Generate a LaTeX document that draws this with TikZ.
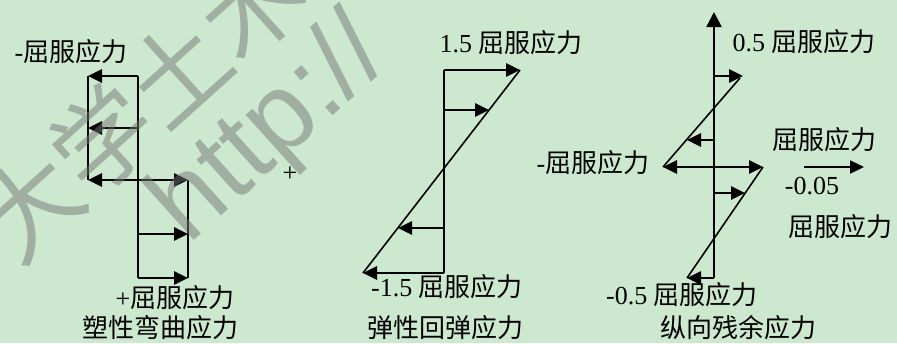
\documentclass[tikz,border=0pt]{standalone}
\usepackage{fontspec}
\setmainfont{Liberation Serif}
\newfontfamily\cjk{Noto Sans CJK SC}
\newfontfamily\wmlatin{Liberation Sans}
\usetikzlibrary{arrows.meta}
\definecolor{bg}{RGB}{204,232,207}
\definecolor{wm}{RGB}{120,120,120}
\begin{document}
\begin{tikzpicture}[x=1pt,y=-1pt,
  lbl/.style={anchor=base, inner sep=0pt, font=\fontsize{26}{30}\selectfont},
  axisline/.style={line width=2pt},
  diag/.style={line width=1.6pt},
  force/.style={line width=2.6pt, -{Triangle[length=14pt,width=13pt]}},
  bothforce/.style={line width=2.6pt, {Triangle[length=14pt,width=13pt]}-{Triangle[length=14pt,width=13pt]}},
  wmtext/.style={text=wm, text opacity=0.5, rotate=42, inner sep=0pt}
]
\fill[bg] (0,0) rectangle (897,343);
\useasboundingbox (0,0) rectangle (897,343);

% ---------- left diagram: plastic bending stress ----------
\coordinate (a1) at (138,76);  \coordinate (a0) at (88,76);
\coordinate (b1) at (138,128); \coordinate (b0) at (88,128);
\coordinate (c0) at (88,180);  \coordinate (c1) at (138,180); \coordinate (c2) at (188,180);
\coordinate (d1) at (138,234); \coordinate (d2) at (188,234);
\coordinate (e1) at (138,278); \coordinate (e2) at (188,278);
\draw[axisline] (a0) -- (c0);
\draw[axisline] (a1) -- (e1);
\draw[axisline] (c2) -- (e2);
\draw[force] (a1) -- (a0);
\draw[force] (b1) -- (b0);
\draw[bothforce] (c0) -- (c2);
\draw[force] (d1) -- (d2);
\draw[force] (e1) -- (e2);
\node[lbl] (l1) at (71,61) {-{\cjk 屈服应力}};
\node[lbl] (l2) at (175,307) {+{\cjk 屈服应力}};
\node[lbl] (l3) at (160,337) {\cjk 塑性弯曲应力};
\node[lbl] (plus) at (290,181) {+};

% ---------- middle diagram: elastic rebound stress ----------
\coordinate (m0) at (444,70);  \coordinate (m0r) at (520,70);
\coordinate (m1) at (444,110); \coordinate (m1r) at (489,110);
\coordinate (m2) at (444,228); \coordinate (m2l) at (398,228);
\coordinate (m3) at (444,273); \coordinate (m3l) at (363,273);
\draw[axisline] (m0) -- (m3);
\draw[diag] (m0r) -- (m3l);
\draw[force] (m0) -- (m0r);
\draw[force] (m1) -- (m1r);
\draw[force] (m2) -- (m2l);
\draw[force] (m3) -- (m3l);
\node[lbl] (m1t) at (511,52) {1.5 {\cjk 屈服应力}};
\node[lbl] (m2t) at (447,296) {-1.5 {\cjk 屈服应力}};
\node[lbl] (m3t) at (445,337) {\cjk 弹性回弹应力};

% ---------- right diagram: longitudinal residual stress ----------
\coordinate (rb) at (714,278); \coordinate (rt) at (714,12);
\coordinate (r1) at (714,76);  \coordinate (r1r) at (743,76);
\coordinate (s1) at (740,78);  \coordinate (s2) at (663,167);
\coordinate (r2) at (714,140); \coordinate (r2l) at (687,140);
\coordinate (r3l) at (663,167); \coordinate (r3r) at (763,167);
\coordinate (r4) at (714,193); \coordinate (r4r) at (745,193);
\coordinate (r5l) at (687,278);
\coordinate (k0) at (804,167); \coordinate (k1) at (864,167);
\draw[axisline, line width=2.4pt, -{Triangle[length=15pt,width=15pt]}] (rb) -- (rt);
\draw[diag] (s1) -- (s2);
\draw[diag] (r3r) -- (r5l);
\draw[force] (r1) -- (r1r);
\draw[force] (r2) -- (r2l);
\draw[bothforce] (r3l) -- (r3r);
\draw[force] (r4) -- (r4r);
\draw[force] (rb) -- (r5l);
\draw[line width=2.4pt, -{Triangle[length=14pt,width=13pt]}] (k0) -- (k1);
\node[lbl] (r1t) at (804,51) {0.5 {\cjk 屈服应力}};
\node[lbl] (r2t) at (593,172) {-{\cjk 屈服应力}};
\node[lbl] (r3t) at (824,149) {\cjk 屈服应力};
\node[lbl] (r4t) at (812,194) {-0.05};
\node[lbl] (r5t) at (840,236) {\cjk 屈服应力};
\node[lbl] (r6t) at (682,304) {-0.5 {\cjk 屈服应力}};
\node[lbl] (r7t) at (738,337) {\cjk 纵向残余应力};

% ---------- watermark ----------
\begin{scope}
\clip (0,0) rectangle (897,343);
\node[wmtext, font=\cjk\fontsize{100}{100}\selectfont] (wm1) at (140,105) {大学土木};
\node[wmtext, font=\wmlatin\fontsize{110}{110}\selectfont] (wm2) at (272,132) {http://};
\end{scope}
\end{tikzpicture}
\end{document}
